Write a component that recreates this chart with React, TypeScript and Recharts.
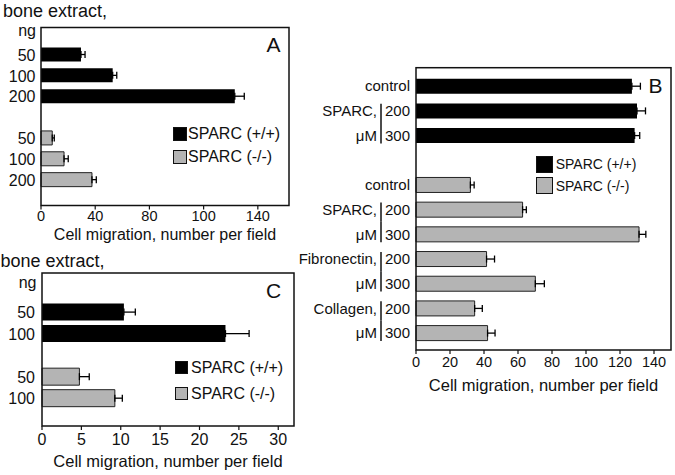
import React from "react";
import { BarChart, Bar, XAxis, YAxis, Cell, ErrorBar, Legend } from "recharts";

const FONT = '"Liberation Sans", Arial, Helvetica, sans-serif';
const INK = "#111";
const BLACK = "#000";
const GRAY = "#b4b4b4";

const LEGEND_NAMES = ["SPARC (+/+)", "SPARC (-/-)"];
const LEGEND_COLORS = [BLACK, GRAY];
const X_TITLE = "Cell migration, number per field";

// Panel A - bone extract, ng
const A_DOSES = ["50", "100", "200"];
const A_PLUS = [29.5, 52.9, 143];
const A_PLUS_ERR = [3, 3, 7];
const A_MINUS = [8.3, 17, 37.6];
const A_MINUS_ERR = [1.5, 3.1, 3.2];
const A_TICKS = [0, 40, 80, 120, 160];
const A_TICK_LABELS = ["0", "40", "80", "100", "140"];

// Panel B - substrates
const B_PLUS_TICKS = ["control", "200", "300"];
const B_PLUS_GROUPS = ["", "SPARC,", "μM"];
const B_PLUS = [127, 130, 128.6];
const B_PLUS_ERR = [5, 5, 3];
const B_MINUS_TICKS = ["control", "200", "300", "200", "300", "200", "300"];
const B_MINUS_GROUPS = ["", "SPARC,", "μM", "Fibronectin,", "μM", "Collagen,", "μM"];
const B_MINUS = [32, 62.7, 131.2, 41.5, 70.2, 34.5, 42.1];
const B_MINUS_ERR = [2.2, 2.2, 4, 4.7, 5.3, 4.5, 4.4];
const B_TICKS = [0, 20, 40, 60, 80, 100, 120, 140];

// Panel C - bone extract, ng
const C_DOSES = ["50", "100"];
const C_PLUS = [10.4, 23.3];
const C_PLUS_ERR = [1.45, 3.0];
const C_MINUS = [4.75, 9.25];
const C_MINUS_ERR = [1.25, 0.95];
const C_TICKS = [0, 5, 10, 15, 20, 25, 30];

type Row = {
  key: string;
  tick: string;
  group: string;
  value: number | null;
  err: [number, number] | null;
  fill: string;
};

function buildRows(
  plusTicks: string[],
  plusGroups: string[],
  plus: number[],
  plusErr: number[],
  minusTicks: string[],
  minusGroups: string[],
  minus: number[],
  minusErr: number[]
): Row[] {
  const rows: Row[] = [];
  plus.forEach((v, i) =>
    rows.push({ key: `p${i}`, tick: plusTicks[i], group: plusGroups[i] || "", value: v, err: [0, plusErr[i]], fill: BLACK })
  );
  // empty row between the two genotypes
  rows.push({ key: "gap", tick: "", group: "", value: null, err: null, fill: "none" });
  minus.forEach((v, i) =>
    rows.push({ key: `m${i}`, tick: minusTicks[i], group: minusGroups[i] || "", value: v, err: [0, minusErr[i]], fill: GRAY })
  );
  return rows;
}

const A_ROWS = buildRows(A_DOSES, [], A_PLUS, A_PLUS_ERR, A_DOSES, [], A_MINUS, A_MINUS_ERR);
const B_ROWS = buildRows(B_PLUS_TICKS, B_PLUS_GROUPS, B_PLUS, B_PLUS_ERR, B_MINUS_TICKS, B_MINUS_GROUPS, B_MINUS, B_MINUS_ERR);
const C_ROWS = buildRows(C_DOSES, [], C_PLUS, C_PLUS_ERR, C_DOSES, [], C_MINUS, C_MINUS_ERR);

function makeTick(rows: Row[], fontSize: number, halfBand = 12) {
  return (props: any) => {
    const { x, y, payload } = props;
    const row = rows.find((r) => r.key === payload.value);
    if (!row) return <g />;
    const top = row.group.endsWith(",");
    return (
      <g>
        <text x={x} y={y} dy="0.36em" textAnchor="end" fontSize={fontSize} fill={INK} fontFamily={FONT}>
          {row.tick}
        </text>
        {row.group && (
          <>
            <text x={x - 33} y={y} dy="0.36em" textAnchor="end" fontSize={fontSize} fill={INK} fontFamily={FONT}>
              {row.group}
            </text>
            <line
              x1={x - 29}
              x2={x - 29}
              y1={top ? y - 7 : y - halfBand}
              y2={top ? y + halfBand : y + 8}
              stroke={INK}
              strokeWidth={1.5}
            />
          </>
        )}
      </g>
    );
  };
}

function LegendBox({ size, gap, rowH, fontSize }: { size: number; gap: number; rowH: number; fontSize: number }) {
  return (
    <div style={{ fontFamily: FONT, fontSize, color: INK }}>
      {LEGEND_NAMES.map((name, i) => (
        <div key={name} style={{ display: "flex", alignItems: "center", height: rowH, whiteSpace: "nowrap" }}>
          <span
            style={{
              display: "inline-block",
              width: size,
              height: size,
              background: LEGEND_COLORS[i],
              border: `1px solid ${INK}`,
              boxSizing: "border-box",
              marginRight: gap,
            }}
          />
          <span>{name}</span>
        </div>
      ))}
    </div>
  );
}

export default function App() {
  const xLabel = (offset: number, fontSize = 16.5) => ({
    value: X_TITLE,
    position: "insideBottom" as const,
    offset,
    fontSize,
    fill: INK,
    fontFamily: FONT,
  });

  const renderBar = (rows: Row[], barSize: number) => (
    <Bar dataKey="value" barSize={barSize} isAnimationActive={false}>
      {rows.map((r) => (
        <Cell key={r.key} fill={r.fill} stroke={r.fill === GRAY ? "#222" : "none"} strokeWidth={1} />
      ))}
      <ErrorBar dataKey="err" direction="x" width={3.5} stroke={BLACK} strokeWidth={1.3} isAnimationActive={false} />
    </Bar>
  );

  return (
    <div style={{ position: "absolute", left: 0, top: 0, width: 675, height: 475, background: "#fff", fontFamily: FONT }}>
      {/* A */}
      <div style={{ position: "absolute", left: 0, top: 0 }}>
        <BarChart width={300} height={250} data={A_ROWS} layout="vertical" margin={{ top: 27.5, right: 11, bottom: 4.5, left: 0 }}>
          <XAxis
            type="number"
            domain={[0, 183]}
            ticks={A_TICKS}
            interval={0}
            tickFormatter={(_v: number, i: number) => A_TICK_LABELS[i]}
            axisLine={false}
            tickSize={4}
            tickMargin={1}
            tickLine={{ stroke: INK, strokeWidth: 1.2 }}
            tick={{ fontSize: 14.5, fill: INK, fontFamily: FONT }}
            height={40}
            label={xLabel(6, 16)}
          />
          <YAxis
            type="category"
            dataKey="key"
            width={41}
            axisLine={false}
            tickLine={false}
            tickSize={0}
            tickMargin={5.5}
            interval={0}
            padding={{ top: 17, bottom: 15 }}
            tick={makeTick(A_ROWS, 16)}
          />
          {renderBar(A_ROWS, 14)}
          <Legend
            layout="vertical"
            align="center"
            verticalAlign="middle"
            wrapperStyle={{ left: 173, top: 122.5, width: "auto" }}
            content={() => <LegendBox size={14} gap={1} rowH={23} fontSize={16} />}
          />
        </BarChart>
      </div>

      {/* B */}
      <div style={{ position: "absolute", left: 280, top: 40 }}>
        <BarChart width={395} height={370} data={B_ROWS} layout="vertical" margin={{ top: 27.7, right: 4, bottom: 15, left: 0 }}>
          <XAxis
            type="number"
            domain={[0, 150]}
            ticks={B_TICKS}
            interval={0}
            axisLine={false}
            tickSize={4}
            tickMargin={3}
            tickLine={{ stroke: INK, strokeWidth: 1.2 }}
            tick={{ fontSize: 14.5, fill: INK, fontFamily: FONT }}
            height={45}
            label={xLabel(4)}
          />
          <YAxis
            type="category"
            dataKey="key"
            width={136}
            axisLine={false}
            tickLine={false}
            tickSize={0}
            tickMargin={6}
            interval={0}
            padding={{ top: 6, bottom: 4.7 }}
            tick={makeTick(B_ROWS, 15, 12.35)}
          />
          {renderBar(B_ROWS, 15)}
          <Legend
            layout="vertical"
            align="center"
            verticalAlign="middle"
            wrapperStyle={{ left: 255.7, top: 113.6, width: "auto" }}
            content={() => <LegendBox size={17} gap={3} rowH={21.4} fontSize={14} />}
          />
        </BarChart>
      </div>

      {/* C */}
      <div style={{ position: "absolute", left: 0, top: 250 }}>
        <BarChart width={300} height={225} data={C_ROWS} layout="vertical" margin={{ top: 23, right: 6, bottom: 4, left: 0 }}>
          <XAxis
            type="number"
            domain={[0, 32]}
            ticks={C_TICKS}
            interval={0}
            axisLine={false}
            tickSize={4}
            tickMargin={4}
            tickLine={{ stroke: INK, strokeWidth: 1.2 }}
            tick={{ fontSize: 16, fill: INK, fontFamily: FONT }}
            height={45}
            label={xLabel(4)}
          />
          <YAxis
            type="category"
            dataKey="key"
            width={42}
            axisLine={false}
            tickLine={false}
            tickSize={0}
            tickMargin={7}
            interval={0}
            padding={{ top: 28.6, bottom: 16.8 }}
            tick={makeTick(C_ROWS, 16)}
          />
          {renderBar(C_ROWS, 17)}
          <Legend
            layout="vertical"
            align="center"
            verticalAlign="middle"
            wrapperStyle={{ left: 175, top: 104.5, width: "auto" }}
            content={() => <LegendBox size={13} gap={3} rowH={26.3} fontSize={16} />}
          />
        </BarChart>
      </div>

      {/* frames and panel annotations */}
      <svg width={675} height={475} style={{ position: "absolute", left: 0, top: 0, pointerEvents: "none" }} fontFamily={FONT}>
        <rect x={41} y={27.5} width={248} height={178} fill="none" stroke={INK} strokeWidth={1.5} />
        <rect x={416} y={67.7} width={255} height={282.3} fill="none" stroke={INK} strokeWidth={1.5} />
        <rect x={42} y={273} width={252} height={153} fill="none" stroke={INK} strokeWidth={1.5} />
        <text x={3} y={17} fontSize={18} fill={INK}>bone extract,</text>
        <text x={36} y={35.5} fontSize={16} fill={INK} textAnchor="end">ng</text>
        <text x={266.5} y={51.7} fontSize={21} fill={INK}>A</text>
        <text x={648.5} y={93.3} fontSize={21} fill={INK}>B</text>
        <text x={0.5} y={267} fontSize={18} fill={INK}>bone extract,</text>
        <text x={36.5} y={288} fontSize={16} fill={INK} textAnchor="end">ng</text>
        <text x={266} y={298} fontSize={21} fill={INK}>C</text>
      </svg>
    </div>
  );
}
